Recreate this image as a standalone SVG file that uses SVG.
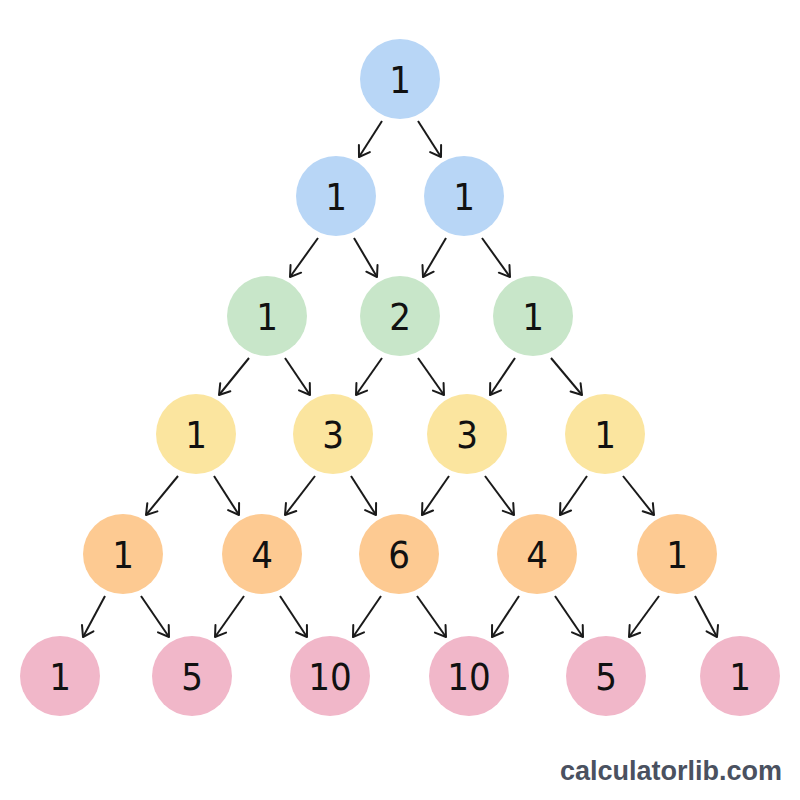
<svg xmlns="http://www.w3.org/2000/svg" width="800" height="800" viewBox="0 0 800 800">
<defs>
<marker id="arr" viewBox="-12 -8 14 16" refX="0" refY="0" markerWidth="14" markerHeight="16" markerUnits="userSpaceOnUse" orient="auto">
<path d="M-10,-6.5 L0,0 L-10,6.5" fill="none" stroke="#1a1a1a" stroke-width="2" stroke-linecap="round" stroke-linejoin="round"/>
</marker>
</defs>
<style>
.c0{fill:#b8d6f6}.c1{fill:#b8d6f6}.c2{fill:#c8e6c9}.c3{fill:#fbe59f}.c4{fill:#fdca92}.c5{fill:#f1b7c9}
text.n{font-family:"DejaVu Sans Condensed","DejaVu Sans",sans-serif;font-stretch:condensed;font-size:38px;fill:#111;text-anchor:middle}
.e line{stroke:#1a1a1a;stroke-width:2;marker-end:url(#arr)}
.wm{font-family:"Liberation Sans",Arial,sans-serif;font-weight:bold;font-size:27px;fill:#4a5160}
</style>
<rect width="800" height="800" fill="#ffffff"/>
<g id="connectors" class="e">
<line x1="382" y1="121" x2="359" y2="157"/>
<line x1="418" y1="121" x2="441" y2="157"/>
<line x1="318" y1="238" x2="290" y2="277"/>
<line x1="354" y1="238" x2="377" y2="277"/>
<line x1="446" y1="238" x2="423" y2="277"/>
<line x1="482" y1="238" x2="510" y2="277"/>
<line x1="249" y1="358" x2="219" y2="395"/>
<line x1="285" y1="358" x2="310" y2="395"/>
<line x1="382" y1="358" x2="356" y2="395"/>
<line x1="418" y1="358" x2="444" y2="395"/>
<line x1="515" y1="358" x2="490" y2="395"/>
<line x1="551" y1="358" x2="582" y2="395"/>
<line x1="178" y1="476" x2="146" y2="515"/>
<line x1="214" y1="476" x2="239" y2="515"/>
<line x1="315" y1="476" x2="285" y2="515"/>
<line x1="351" y1="476" x2="376" y2="515"/>
<line x1="449" y1="476" x2="422" y2="515"/>
<line x1="485" y1="476" x2="514" y2="515"/>
<line x1="587" y1="476" x2="560" y2="515"/>
<line x1="623" y1="476" x2="654" y2="515"/>
<line x1="105" y1="596" x2="83" y2="637"/>
<line x1="141" y1="596" x2="169" y2="637"/>
<line x1="244" y1="596" x2="215" y2="637"/>
<line x1="280" y1="596" x2="307" y2="637"/>
<line x1="381" y1="596" x2="353" y2="637"/>
<line x1="417" y1="596" x2="446" y2="637"/>
<line x1="519" y1="596" x2="492" y2="637"/>
<line x1="555" y1="596" x2="583" y2="637"/>
<line x1="659" y1="596" x2="629" y2="637"/>
<line x1="695" y1="596" x2="717" y2="637"/>
</g>
<g id="n0_0"><circle class="c0" cx="400" cy="79" r="40"/><text class="n" x="400" y="93">1</text></g>
<g id="n1_0"><circle class="c1" cx="336" cy="196" r="40"/><text class="n" x="336" y="210">1</text></g>
<g id="n1_1"><circle class="c1" cx="464" cy="196" r="40"/><text class="n" x="464" y="210">1</text></g>
<g id="n2_0"><circle class="c2" cx="267" cy="316" r="40"/><text class="n" x="267" y="330">1</text></g>
<g id="n2_1"><circle class="c2" cx="400" cy="316" r="40"/><text class="n" x="400" y="330">2</text></g>
<g id="n2_2"><circle class="c2" cx="533" cy="316" r="40"/><text class="n" x="533" y="330">1</text></g>
<g id="n3_0"><circle class="c3" cx="196" cy="434" r="40"/><text class="n" x="196" y="448">1</text></g>
<g id="n3_1"><circle class="c3" cx="333" cy="434" r="40"/><text class="n" x="333" y="448">3</text></g>
<g id="n3_2"><circle class="c3" cx="467" cy="434" r="40"/><text class="n" x="467" y="448">3</text></g>
<g id="n3_3"><circle class="c3" cx="605" cy="434" r="40"/><text class="n" x="605" y="448">1</text></g>
<g id="n4_0"><circle class="c4" cx="123" cy="554" r="40"/><text class="n" x="123" y="568">1</text></g>
<g id="n4_1"><circle class="c4" cx="262" cy="554" r="40"/><text class="n" x="262" y="568">4</text></g>
<g id="n4_2"><circle class="c4" cx="399" cy="554" r="40"/><text class="n" x="399" y="568">6</text></g>
<g id="n4_3"><circle class="c4" cx="537" cy="554" r="40"/><text class="n" x="537" y="568">4</text></g>
<g id="n4_4"><circle class="c4" cx="677" cy="554" r="40"/><text class="n" x="677" y="568">1</text></g>
<g id="n5_0"><circle class="c5" cx="60" cy="676" r="40"/><text class="n" x="60" y="690">1</text></g>
<g id="n5_1"><circle class="c5" cx="192" cy="676" r="40"/><text class="n" x="192" y="690">5</text></g>
<g id="n5_2"><circle class="c5" cx="330" cy="676" r="40"/><text class="n" x="330" y="690">10</text></g>
<g id="n5_3"><circle class="c5" cx="469" cy="676" r="40"/><text class="n" x="469" y="690">10</text></g>
<g id="n5_4"><circle class="c5" cx="606" cy="676" r="40"/><text class="n" x="606" y="690">5</text></g>
<g id="n5_5"><circle class="c5" cx="740" cy="676" r="40"/><text class="n" x="740" y="690">1</text></g>
<text class="wm" x="782" y="780" text-anchor="end">calculatorlib.com</text>
</svg>
